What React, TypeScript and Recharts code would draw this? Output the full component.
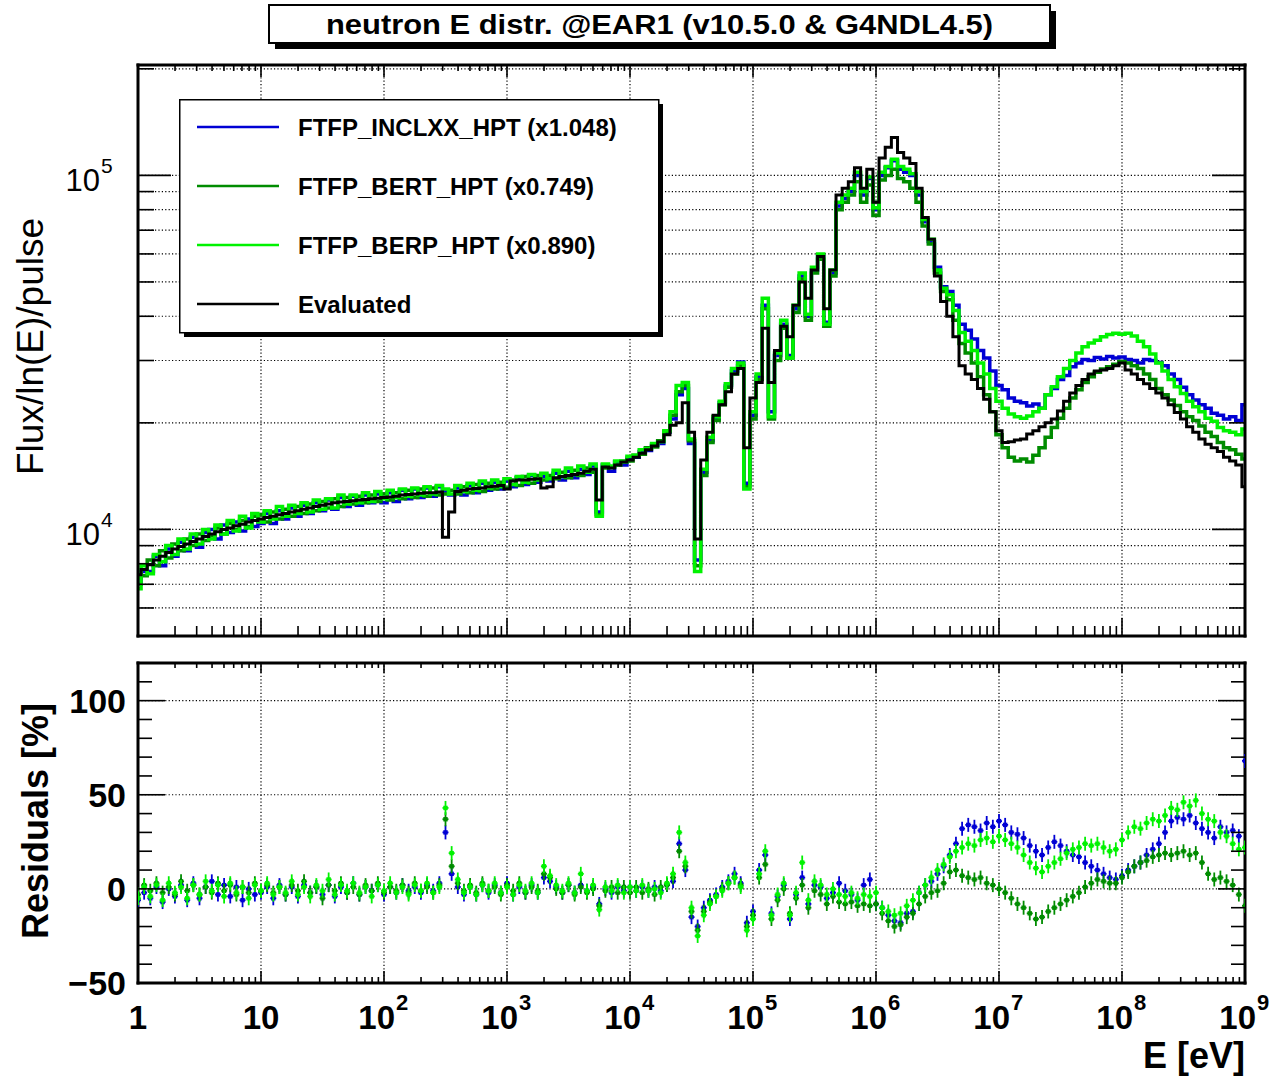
import React from 'react';
import {
    ComposedChart, Line, Scatter, XAxis, YAxis, ReferenceLine, Legend
} from 'recharts';

const FONT = '"Liberation Sans", Arial, Helvetica, sans-serif';

// bin centres, log10(E/eV)
const logEBins = [
    0, 0.05, 0.1, 0.15, 0.2, 0.25, 0.3, 0.35, 0.4, 0.45, 0.5, 0.55, 0.6, 0.65, 0.7, 0.75, 0.8, 0.85, 0.9, 0.95,
    1, 1.05, 1.1, 1.15, 1.2, 1.25, 1.3, 1.35, 1.4, 1.45, 1.5, 1.55, 1.6, 1.65, 1.7, 1.75, 1.8, 1.85, 1.9, 1.95,
    2, 2.05, 2.1, 2.15, 2.2, 2.25, 2.3, 2.35, 2.4, 2.45, 2.5, 2.55, 2.6, 2.65, 2.7, 2.75, 2.8, 2.85, 2.9, 2.95,
    3, 3.05, 3.1, 3.15, 3.2, 3.25, 3.3, 3.35, 3.4, 3.45, 3.5, 3.55, 3.6, 3.65, 3.7, 3.75, 3.8, 3.85, 3.9, 3.95,
    4, 4.05, 4.1, 4.15, 4.2, 4.25, 4.3, 4.35, 4.4, 4.45, 4.5, 4.55, 4.6, 4.65, 4.7, 4.75, 4.8, 4.85, 4.9, 4.95,
    5, 5.05, 5.1, 5.15, 5.2, 5.25, 5.3, 5.35, 5.4, 5.45, 5.5, 5.55, 5.6, 5.65, 5.7, 5.75, 5.8, 5.85, 5.9, 5.95,
    6, 6.05, 6.1, 6.15, 6.2, 6.25, 6.3, 6.35, 6.4, 6.45, 6.5, 6.55, 6.6, 6.65, 6.7, 6.75, 6.8, 6.85, 6.9, 6.95,
    7, 7.05, 7.1, 7.15, 7.2, 7.25, 7.3, 7.35, 7.4, 7.45, 7.5, 7.55, 7.6, 7.65, 7.7, 7.75, 7.8, 7.85, 7.9, 7.95,
    8, 8.05, 8.1, 8.15, 8.2, 8.25, 8.3, 8.35, 8.4, 8.45, 8.5, 8.55, 8.6, 8.65, 8.7, 8.75, 8.8, 8.85, 8.9, 8.95,
    9
];

// flux/ln(E)/pulse, in units of 10^3
const fluxInclxx = [
    7.0, 7.6, 7.6, 8.4, 7.9, 8.8, 8.4, 9.2, 8.7, 9.5, 8.9, 9.8, 10.0, 9.4, 10.3, 9.8, 10.5, 9.9, 10.7, 10.2,
    10.4, 11.1, 10.4, 11.3, 10.7, 11.5, 10.9, 11.7, 11.1, 11.9, 11.3, 12.1, 11.4, 12.3, 11.6, 12.4, 11.7, 12.5, 11.9, 12.6,
    11.9, 12.7, 12.0, 12.9, 12.2, 13.0, 12.3, 13.1, 12.4, 13.2, 12.8, 12.5, 13.1, 12.5, 13.3, 12.7, 13.5, 12.9, 13.6, 13.0,
    13.7, 13.2, 14.0, 13.4, 14.2, 13.6, 14.1, 13.7, 14.4, 13.8, 14.6, 14.0, 14.8, 14.3, 15.1, 11.2, 15.2, 14.6, 15.5, 15.2,
    15.9, 16.0, 16.6, 16.7, 17.3, 17.5, 18.8, 20.5, 24.0, 25.0, 17.5, 8.2, 14.5, 17.8, 20.5, 22.8, 25.5, 28.0, 29.7, 13.5,
    21.0, 27.0, 43.0, 21.5, 31.0, 38.0, 31.0, 42.0, 52.0, 40.0, 54.0, 59.0, 38.5, 53.0, 82.0, 86.0, 90.0, 100.0, 88.0, 98.0,
    80.0, 100.0, 105.0, 110.0, 104.0, 102.0, 100.0, 88.0, 74.0, 65.0, 55.0, 48.5, 47.0, 43.0, 38.0, 36.5, 34.5, 32.0, 30.5, 28.0,
    25.5, 24.8, 23.5, 23.0, 22.8, 22.3, 22.6, 22.0, 24.0, 25.0, 26.5, 27.2, 28.8, 29.5, 30.2, 30.0, 30.6, 30.3, 30.8, 30.5,
    30.7, 30.2, 30.0, 29.5, 30.2, 30.0, 29.6, 29.0, 27.5, 26.5, 25.2, 24.0, 23.2, 22.5, 22.0, 21.3, 21.0, 20.5, 20.8, 20.3,
    22.5
];

const fluxBert = [
    7.3, 7.4, 8.2, 7.9, 8.7, 8.3, 9.1, 8.7, 9.4, 9.0, 9.7, 9.3, 9.6, 10.1, 9.7, 10.4, 10.0, 10.6, 10.2, 10.9,
    11.0, 10.5, 11.2, 10.7, 11.4, 10.9, 11.6, 11.1, 11.8, 11.3, 12.0, 11.5, 12.2, 11.6, 12.3, 11.8, 12.4, 11.9, 12.5, 12.0,
    12.6, 12.1, 12.7, 12.2, 12.9, 12.3, 13.0, 12.4, 13.1, 12.5, 12.6, 12.9, 12.6, 13.2, 12.7, 13.4, 12.8, 13.5, 13.0, 13.6,
    13.1, 13.8, 13.3, 14.1, 13.5, 14.2, 13.8, 14.2, 13.9, 14.5, 14.0, 14.7, 14.2, 14.9, 14.5, 11.0, 14.9, 15.0, 15.2, 15.6,
    15.6, 16.2, 16.3, 17.0, 17.1, 17.8, 18.9, 21.0, 24.5, 25.5, 17.8, 7.9, 14.2, 17.6, 20.3, 22.5, 25.2, 27.5, 29.0, 13.2,
    20.5, 26.5, 42.0, 20.5, 30.0, 37.0, 30.5, 41.0, 51.0, 39.0, 53.0, 58.0, 37.5, 52.0, 80.0, 84.0, 88.0, 96.0, 84.0, 94.0,
    77.0, 97.0, 100.0, 104.0, 98.0, 96.0, 92.0, 84.0, 72.0, 64.0, 53.0, 47.0, 44.5, 39.0, 33.5, 31.5, 29.5, 27.0, 24.0, 21.5,
    18.5, 17.0, 16.0, 15.6, 15.8, 15.5, 16.2, 17.0, 18.2, 19.4, 20.6, 22.0, 23.5, 24.8, 26.0, 27.0, 27.8, 28.4, 28.8, 29.3,
    29.8, 29.5, 29.0, 28.5, 27.5, 26.5, 25.0, 24.0, 23.2, 22.4, 21.5, 20.8, 20.3, 19.6, 18.8, 18.3, 17.6, 17.0, 16.8, 16.3,
    15.8
];

const fluxBerp = [
    6.8, 7.9, 7.5, 8.5, 8.1, 9.0, 8.5, 9.4, 8.8, 9.7, 9.1, 10.0, 9.4, 10.3, 9.7, 10.6, 9.9, 10.9, 10.1, 11.1,
    10.5, 11.3, 10.7, 11.6, 10.9, 11.7, 11.1, 11.9, 11.2, 12.1, 11.4, 12.2, 11.5, 12.5, 11.8, 12.5, 11.9, 12.7, 12.0, 12.8,
    12.2, 12.9, 12.3, 13.0, 12.4, 13.1, 12.5, 13.2, 12.6, 13.3, 13.0, 12.6, 13.3, 12.8, 13.5, 12.9, 13.7, 13.1, 13.8, 13.2,
    13.9, 13.4, 14.1, 13.6, 14.3, 13.8, 14.4, 13.9, 14.7, 14.1, 14.9, 14.3, 15.1, 14.5, 15.3, 10.9, 15.3, 15.1, 15.6, 15.5,
    16.1, 16.2, 16.8, 16.9, 17.5, 17.7, 19.0, 21.5, 25.5, 26.0, 18.0, 7.6, 14.8, 18.2, 20.8, 23.0, 25.8, 28.5, 29.5, 13.0,
    21.5, 27.5, 45.0, 20.8, 31.5, 39.0, 30.5, 43.0, 53.0, 40.5, 55.0, 60.0, 38.0, 54.0, 84.0, 88.0, 92.0, 102.0, 90.0, 99.0,
    81.0, 102.0, 106.0, 111.0, 106.0, 104.0, 101.0, 90.0, 75.0, 66.0, 54.0, 48.0, 46.0, 41.5, 36.0, 34.0, 32.0, 29.5, 27.5, 25.0,
    23.0, 22.0, 21.2, 20.8, 20.6, 20.9, 21.5, 22.0, 24.0, 25.3, 27.0, 28.5, 30.0, 31.5, 32.8, 33.6, 34.2, 35.0, 35.5, 35.8,
    35.6, 35.8, 35.2, 34.0, 32.8, 31.3, 29.5, 28.0, 26.5, 25.3, 24.2, 23.0, 22.2, 21.5, 20.6, 20.2, 19.4, 19.0, 18.8, 18.5,
    19.2
];

const fluxEvaluated = [
    7.45, 7.7, 7.95, 8.2, 8.4, 8.6, 8.8, 8.95, 9.1, 9.25, 9.4, 9.55, 9.7, 9.85, 10.0, 10.1, 10.25, 10.35, 10.5, 10.6,
    10.7, 10.8, 10.9, 11.0, 11.1, 11.2, 11.3, 11.4, 11.5, 11.6, 11.7, 11.8, 11.9, 11.95, 12.0, 12.05, 12.1, 12.15, 12.2, 12.25,
    12.3, 12.35, 12.4, 12.5, 12.55, 12.6, 12.65, 12.7, 12.7, 12.75, 9.5, 11.2, 12.8, 12.9, 13.0, 13.05, 13.1, 13.2, 13.25, 13.3,
    13.0, 13.7, 13.8, 13.8, 13.85, 13.9, 13.1, 13.2, 14.0, 14.1, 14.2, 14.3, 14.4, 14.6, 14.8, 12.1, 15.0, 14.9, 15.2, 15.5,
    15.7, 16.0, 16.4, 16.8, 17.2, 17.7, 18.5, 19.7, 20.0, 22.8, 18.8, 9.4, 15.7, 18.8, 21.0, 22.5, 24.5, 27.5, 28.5, 17.0,
    23.5, 26.0, 37.0, 26.0, 32.0, 37.5, 35.0, 43.0, 50.0, 45.0, 54.0, 59.0, 42.0, 54.0, 88.0, 92.0, 96.0, 105.0, 92.0, 104.0,
    84.0, 112.0, 120.0, 128.0, 116.0, 112.0, 108.0, 92.0, 76.0, 66.0, 52.0, 44.0, 40.0, 35.0, 29.0, 27.5, 26.5, 25.0, 23.3, 21.5,
    19.0, 17.6, 17.7, 17.9, 18.0, 18.6, 19.0, 19.5, 20.0, 20.5, 21.6, 23.0, 24.3, 25.5, 26.5, 27.5, 28.0, 28.2, 28.5, 29.0,
    29.5, 28.2, 27.5, 26.5, 25.8, 25.0, 24.3, 23.5, 22.5, 21.4, 20.5, 19.5, 18.8, 18.0, 17.4, 17.0, 16.6, 16.0, 15.6, 15.2,
    13.2
];

// residuals [%]
const residInclxx = [
    -6, -2, -5, 1, -7, 0, -4, 2, -6, 3, -5, 1, 4, -3, 2, -4, 1, -6, 0, -3,
    -2, 1, -5, 2, -3, 1, -4, 2, -2, 1, -3, 2, -4, 1, -2, 3, -3, 1, -1, 2,
    -3, 1, -2, 2, -1, 1, -2, 2, -1, 3, 30, 8, 1, -3, 1, -3, 2, -2, 2, -2,
    3, -3, 1, -2, 2, -2, 6, 4, 1, -2, 2, -2, 2, -1, 1, -8, 0, -2, 1, -1,
    1, -1, 1, -1, 1, -1, 2, 4, 24, 10, -15, -20, -10, -6, -3, 1, 4, 8, 3, -18,
    -12, 10, 18, -13, -4, 2, -16, -3, 6, -8, 2, 1, -5, -2, 3, -1, -3, -6, 2, 5,
    -8, -10, -14, -17, -18, -13, -12, -2, 2, 4, 8, 12, 18, 24, 32, 34, 33, 31, 35, 33,
    36, 34, 30, 29, 27, 23, 20, 18, 22, 25, 23, 20, 18, 17, 14, 12, 10, 8, 6, 5,
    7, 10, 12, 14, 18, 21, 24, 30, 36, 38, 37, 39, 35, 32, 30, 27, 33, 30, 31, 28,
    68
];

const residBert = [
    -3, 2, -1, 3, -2, 1, -3, 4, -1, 2, -3, 1, -2, 3, -1, 2, -3, 1, -2, 3,
    -1, 2, -2, 1, -3, 2, -1, 4, -2, 1, -5, 2, -1, 3, -2, 1, -3, 2, -1, 3,
    -2, 1, -1, 2, -2, 3, -1, 1, -2, 2, 37, 12, 3, -1, 2, -2, 3, -1, 1, -3,
    2, -1, 3, -2, 1, -1, 8, 6, 0, -2, 2, -3, 1, -2, 0, -9, -1, 1, -2, 1,
    -2, 1, -2, 0, -3, 1, 2, 6, 20, 12, -12, -22, -12, -7, -4, 0, 3, 6, 2, -20,
    -14, 6, 13, -16, -6, 0, -13, -5, 2, -10, -1, -3, -8, -4, -7, -8, -7, -9, -8, -9,
    -8, -13, -17, -20, -19, -15, -13, -8, -4, -2, -1, 3, 9, 10, 7, 6, 5, 6, 3, 2,
    0, -2, -5, -8, -10, -13, -16, -15, -12, -10, -8, -6, -4, -2, 1, 3, 5, 4, 3, 3,
    6, 9, 12, 14, 15, 17, 18, 19, 18, 19, 20, 18, 19, 14, 8, 5, 6, 4, 2, -3,
    -9
];

const residBerp = [
    -5, 1, -4, 2, -6, 3, -2, 1, -5, 2, -3, 4, -1, 2, -4, 3, -2, 1, -5, 2,
    -1, 3, -3, 1, -2, 4, -3, 1, -4, 2, -1, 5, -3, 2, -1, 3, -2, 1, -4, 2,
    -1, 3, -2, 1, -3, 2, -1, 3, -2, 1, 43, 19, 5, -2, 1, -3, 2, -1, 3, -2,
    1, -3, 2, -1, 3, -2, 12, 7, 2, -1, 3, -2, 8, -1, 2, -11, 1, -1, 2, -2,
    1, -1, 2, -1, 0, -2, 3, 8, 30, 14, -10, -25, -14, -8, -4, -1, 3, 6, 1, -22,
    -16, 8, 20, -14, -3, 3, -14, -2, 14, -6, 4, 2, -3, 0, -3, -4, -2, -5, -3, -4,
    -2, -10, -12, -14, -13, -9, -6, -2, 2, 6, 10, 13, 17, 20, 22, 24, 23, 26, 27, 25,
    28, 26, 24, 22, 18, 14, 11, 9, 12, 14, 16, 19, 21, 22, 24, 23, 24, 22, 20, 21,
    26, 30, 33, 32, 35, 37, 36, 39, 43, 42, 46, 44, 47, 40, 37, 36, 30, 28, 24, 21,
    22
];

const seriesNames = ['FTFP_INCLXX_HPT (x1.048)', 'FTFP_BERT_HPT (x0.749)', 'FTFP_BERP_HPT (x0.890)', 'Evaluated'];
const seriesColors = ['#0000d4', '#008c00', '#00f200', '#000000'];

const decades = [1, 10, 100, 1e3, 1e4, 1e5, 1e6, 1e7, 1e8, 1e9];
const minorSteps = [1, 2, 3, 4, 5, 6, 7, 8, 9];
const fluxMajor = [10, 100];
const fluxRange = [5, 205];
const residMajor = [-50, 0, 50, 100];
const residRange = [-50, 120];
const residTicks = [-50, -40, -30, -20, -10, 0, 10, 20, 30, 40, 50, 60, 70, 80, 90, 100, 110, 120];

const xTicks = decades.slice(0, -1).flatMap(d => minorSteps.map(s => s * d)).concat([1e9]);
const fluxTicks = [1, 10, 100].flatMap(d => minorSteps.map(s => s * d))
    .filter(v => v >= fluxRange[0] && v <= fluxRange[1]);

const rows = logEBins.map((lg, i) => ({
    e: 10 ** lg,
    inclxx: fluxInclxx[i],
    bert: fluxBert[i],
    berp: fluxBerp[i],
    evaluated: fluxEvaluated[i],
    rInclxx: residInclxx[i],
    rBert: residBert[i],
    rBerp: residBerp[i],
}));

const TK = 1.6;

const makeXTick = (side, majorLen, minorLen, withLabel) => (props) => {
    const { x, y, payload } = props;
    const k = decades.indexOf(payload.value);
    const len = k >= 0 ? majorLen : minorLen;
    const dir = side === 'bottom' ? -1 : 1;
    return (
        <g>
            <line x1={x} y1={y} x2={x} y2={y + dir * len} stroke="#000" strokeWidth={TK} />
            {withLabel && k === 0 && (
                <text x={x} y={y + 46} textAnchor="middle" fontSize={33} fontWeight="bold" fontFamily={FONT}>1</text>
            )}
            {withLabel && k === 1 && (
                <text x={x} y={y + 46} textAnchor="middle" fontSize={33} fontWeight="bold" fontFamily={FONT}>10</text>
            )}
            {withLabel && k >= 2 && (
                <g fontWeight="bold" fontFamily={FONT}>
                    <text x={x + 11} y={y + 46} textAnchor="end" fontSize={33}>10</text>
                    <text x={x + 12} y={y + 27} fontSize={22}>{k}</text>
                </g>
            )}
        </g>
    );
};

const makeFluxYTick = (side) => (props) => {
    const { x, y, payload } = props;
    const major = fluxMajor.includes(payload.value);
    const len = major ? 33 : 16;
    const dir = side === 'left' ? 1 : -1;
    return (
        <g>
            <line x1={x} y1={y} x2={x + dir * len} y2={y} stroke="#000" strokeWidth={TK} />
            {side === 'left' && major && (
                <g fontFamily={FONT}>
                    <text x={x - 38} y={y + 16} textAnchor="end" fontSize={31}>10</text>
                    <text x={x - 37} y={y - 2} fontSize={21}>{payload.value === 10 ? 4 : 5}</text>
                </g>
            )}
        </g>
    );
};

const makeResidYTick = (side) => (props) => {
    const { x, y, payload } = props;
    const major = residMajor.includes(payload.value);
    const len = major ? 27 : 14;
    const dir = side === 'left' ? 1 : -1;
    const label = payload.value < 0 ? '\u2212' + Math.abs(payload.value) : String(payload.value);
    return (
        <g>
            <line x1={x} y1={y} x2={x + dir * len} y2={y} stroke="#000" strokeWidth={TK} />
            {side === 'left' && major && (
                <text x={x - 12} y={y + 12} textAnchor="end" fontSize={34} fontWeight="bold" fontFamily={FONT}>{label}</text>
            )}
        </g>
    );
};

const residMark = (color) => (props) => {
    const { cx, cy } = props;
    if (cx == null || cy == null) return null;
    return (
        <g>
            <line x1={cx} x2={cx} y1={cy - 7} y2={cy + 7} stroke={color} strokeWidth={1.8} />
            <line x1={cx - 3} x2={cx + 3} y1={cy} y2={cy} stroke={color} strokeWidth={1.8} />
            <rect x={cx - 2.2} y={cy - 2.2} width={4.4} height={4.4} fill={color} />
        </g>
    );
};

const LegendBox = () => (
    <svg width={488} height={242} style={{ display: 'block' }}>
        <rect x={5} y={5} width={479} height={233} fill="#000" />
        <rect x={0.75} y={0.75} width={479} height={233} fill="#fff" stroke="#000" strokeWidth={1.5} />
        {seriesNames.map((n, i) => (
            <g key={n}>
                <line x1={18} x2={100} y1={28 + 59 * i} y2={28 + 59 * i} stroke={seriesColors[i]} strokeWidth={2.5} />
                <text x={119} y={36.5 + 59 * i} fontFamily={FONT} fontWeight="bold" fontSize={24}>{n}</text>
            </g>
        ))}
    </svg>
);

const frame = { stroke: '#000', strokeWidth: 3, strokeLinecap: 'square' };
const dotted = { stroke: '#000', strokeWidth: 1.2, strokeDasharray: '1.2 2.2' };

export default function App() {
    return (
        <div style={{ position: 'absolute', left: 0, top: 0, width: 1274, height: 1081, background: '#fff', fontFamily: FONT }}>
            <div style={{ position: 'absolute', left: 0, top: 0 }}>
                <ComposedChart width={1274} height={660} data={rows}
                    margin={{ top: 64, right: 28, bottom: 23, left: 137 }}>
                    <XAxis xAxisId="b" dataKey="e" type="number" scale="log" domain={[1, 1e9]} allowDataOverflow
                        ticks={xTicks} interval={0} height={1} tickSize={0} tickMargin={0} tickLine={false}
                        axisLine={frame} tick={makeXTick('bottom', 18, 10, false)} />
                    <XAxis xAxisId="t" dataKey="e" type="number" scale="log" domain={[1, 1e9]} allowDataOverflow
                        orientation="top" ticks={xTicks} interval={0} height={1} tickSize={0} tickMargin={0}
                        tickLine={false} axisLine={frame} tick={makeXTick('top', 12, 6, false)} />
                    <YAxis yAxisId="l" type="number" scale="log" domain={fluxRange} allowDataOverflow
                        ticks={fluxTicks} interval={0} width={1} tickSize={0} tickMargin={0} tickLine={false}
                        axisLine={frame} tick={makeFluxYTick('left')} />
                    <YAxis yAxisId="r" orientation="right" type="number" scale="log" domain={fluxRange} allowDataOverflow
                        ticks={fluxTicks} interval={0} width={1} tickSize={0} tickMargin={0} tickLine={false}
                        axisLine={frame} tick={makeFluxYTick('right')} />
                    {decades.slice(1, -1).map(d => (
                        <ReferenceLine key={'v' + d} x={d} xAxisId="b" yAxisId="l" {...dotted} />
                    ))}
                    {fluxTicks.filter(v => v > fluxRange[0]).map(v => (
                        <ReferenceLine key={'h' + v} y={v} xAxisId="b" yAxisId="l" {...dotted} />
                    ))}
                    <Line xAxisId="b" yAxisId="l" dataKey="inclxx" name={seriesNames[0]} type="step"
                        stroke={seriesColors[0]} strokeWidth={3.5} dot={false} isAnimationActive={false} />
                    <Line xAxisId="b" yAxisId="l" dataKey="bert" name={seriesNames[1]} type="step"
                        stroke={seriesColors[1]} strokeWidth={3.5} dot={false} isAnimationActive={false} />
                    <Line xAxisId="b" yAxisId="l" dataKey="berp" name={seriesNames[2]} type="step"
                        stroke={seriesColors[2]} strokeWidth={3.5} dot={false} isAnimationActive={false} />
                    <Line xAxisId="b" yAxisId="l" dataKey="evaluated" name={seriesNames[3]} type="step"
                        stroke={seriesColors[3]} strokeWidth={3} dot={false} isAnimationActive={false} />
                    <Legend layout="horizontal" verticalAlign="middle" content={<LegendBox />}
                        wrapperStyle={{ position: 'absolute', left: 179, top: 99, width: 488, height: 242 }} />
                </ComposedChart>
            </div>

            <div style={{ position: 'absolute', left: 0, top: 640 }}>
                <ComposedChart width={1274} height={441} data={rows}
                    margin={{ top: 22, right: 28, bottom: 97, left: 137 }}>
                    <XAxis xAxisId="b" dataKey="e" type="number" scale="log" domain={[1, 1e9]} allowDataOverflow
                        ticks={xTicks} interval={0} height={1} tickSize={0} tickMargin={0} tickLine={false}
                        axisLine={frame} tick={makeXTick('bottom', 12, 6, true)} />
                    <XAxis xAxisId="t" dataKey="e" type="number" scale="log" domain={[1, 1e9]} allowDataOverflow
                        orientation="top" ticks={xTicks} interval={0} height={1} tickSize={0} tickMargin={0}
                        tickLine={false} axisLine={frame} tick={makeXTick('top', 10, 5, false)} />
                    <YAxis yAxisId="l" type="number" domain={residRange} allowDataOverflow
                        ticks={residTicks} interval={0} width={1} tickSize={0} tickMargin={0} tickLine={false}
                        axisLine={frame} tick={makeResidYTick('left')} />
                    <YAxis yAxisId="r" orientation="right" type="number" domain={residRange} allowDataOverflow
                        ticks={residTicks} interval={0} width={1} tickSize={0} tickMargin={0} tickLine={false}
                        axisLine={frame} tick={makeResidYTick('right')} />
                    {decades.slice(1, -1).map(d => (
                        <ReferenceLine key={'v' + d} x={d} xAxisId="b" yAxisId="l" {...dotted} />
                    ))}
                    {[0, 50, 100].map(v => (
                        <ReferenceLine key={'h' + v} y={v} xAxisId="b" yAxisId="l" {...dotted} />
                    ))}
                    <Scatter xAxisId="b" yAxisId="l" dataKey="rInclxx" name={seriesNames[0]}
                        shape={residMark(seriesColors[0])} isAnimationActive={false} />
                    <Scatter xAxisId="b" yAxisId="l" dataKey="rBert" name={seriesNames[1]}
                        shape={residMark(seriesColors[1])} isAnimationActive={false} />
                    <Scatter xAxisId="b" yAxisId="l" dataKey="rBerp" name={seriesNames[2]}
                        shape={residMark(seriesColors[2])} isAnimationActive={false} />
                </ComposedChart>
            </div>

            <svg width={1274} height={1081} style={{ position: 'absolute', left: 0, top: 0, pointerEvents: 'none' }}
                fontFamily={FONT}>
                <rect x={275} y={11} width={781} height={38} fill="#000" />
                <rect x={269} y={5} width={781} height={38} fill="#fff" stroke="#000" strokeWidth={2} />
                <text x={659.5} y={34} textAnchor="middle" fontSize={27} fontWeight="bold"
                    textLength={667} lengthAdjust="spacingAndGlyphs">
                    neutron E distr. @EAR1 (v10.5.0 &amp; G4NDL4.5)
                </text>
                <text x={43} y={346.5} transform="rotate(-90 43 346.5)" textAnchor="middle" fontSize={36}
                    textLength={257} lengthAdjust="spacingAndGlyphs">Flux/ln(E)/pulse</text>
                <text x={48} y={821} transform="rotate(-90 48 821)" textAnchor="middle" fontSize={36}
                    fontWeight="bold">Residuals [%]</text>
                <text x={1245} y={1068} textAnchor="end" fontSize={36} fontWeight="bold">E [eV]</text>
            </svg>
        </div>
    );
}
